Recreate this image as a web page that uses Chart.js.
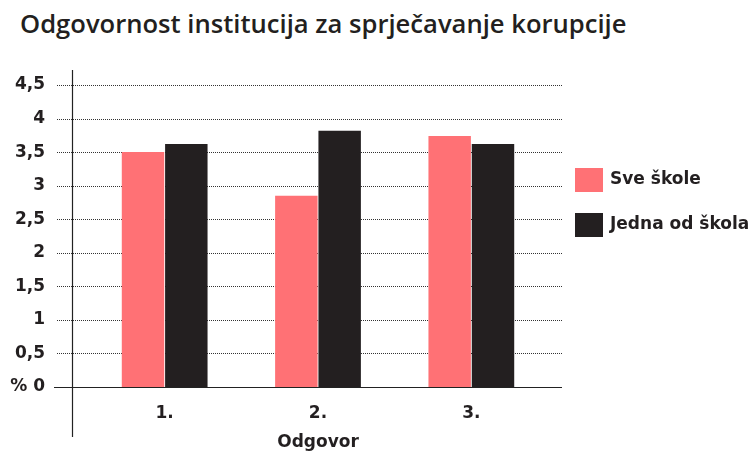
<!DOCTYPE html>
<html>
<head>
<meta charset="utf-8">
<script src="https://cdn.jsdelivr.net/npm/chart.js@4"></script>
<style>
  html, body { margin: 0; padding: 0; background: #fff; }
  #wrap { position: relative; width: 756px; height: 453px; }
  #title {
    position: absolute; left: 20px; top: 6px;
    font-family: "Open Sans", sans-serif; font-weight: 600; font-size: 25.6px;
    color: #231f20; white-space: nowrap;
  }
  canvas { position: absolute; left: 0; top: 0; }
</style>
</head>
<body>
<div id="wrap">
  <div id="title">Odgovornost institucija za sprječavanje korupcije</div>
  <canvas id="chart" width="756" height="453"></canvas>
</div>
<script>
// data
var categories = ["1.", "2.", "3."];
var sveSkole = [3.5, 2.85, 3.74];
var jednaOdSkola = [3.62, 3.82, 3.62];
var yTickLabels = ["% 0", "0,5", "1", "1,5", "2", "2,5", "3", "3,5", "4", "4,5"];

var pink = "#ff7175";
var dark = "#231f20";
var fontFam = "'DejaVu Sans', sans-serif";
var labelFont = "bold 17px 'DejaVu Sans', sans-serif";

// dotted grid lines reaching past the plot area, plus the two axis lines
var axisLines = {
  id: "axisLines",
  beforeDatasetsDraw: function(chart) {
    var ctx = chart.ctx, y = chart.scales.y;
    ctx.save();
    ctx.strokeStyle = "#333";
    ctx.lineWidth = 1;
    ctx.setLineDash([1, 1]);
    y.ticks.forEach(function(t) {
      if (t.value === 0) return;
      var py = Math.round(y.getPixelForValue(t.value)) + 0.5;
      ctx.beginPath();
      ctx.moveTo(57, py);
      ctx.lineTo(562, py);
      ctx.stroke();
    });
    ctx.restore();
  },
  afterDatasetsDraw: function(chart) {
    var ctx = chart.ctx, y = chart.scales.y;
    var py0 = Math.round(y.getPixelForValue(0)) + 0.5;
    ctx.save();
    ctx.strokeStyle = "#222";
    ctx.lineWidth = 1.2;
    ctx.beginPath();
    ctx.moveTo(54, py0);
    ctx.lineTo(562, py0);
    ctx.moveTo(72.5, 70);
    ctx.lineTo(72.5, 437);
    ctx.stroke();
    ctx.restore();
  }
};

// legend boxes and names taken from the datasets
var sideLegend = {
  id: "sideLegend",
  afterDraw: function(chart) {
    var ctx = chart.ctx;
    ctx.save();
    ctx.font = labelFont;
    ctx.textBaseline = "middle";
    chart.data.datasets.forEach(function(ds, i) {
      var top = 168 + i * 45;
      ctx.fillStyle = ds.backgroundColor;
      ctx.fillRect(575, top, 28, 24);
      ctx.fillStyle = dark;
      ctx.fillText(ds.label, 610, top + 12);
    });
    ctx.restore();
  }
};

var data = {
  labels: categories,
  datasets: [{
    label: "Sve škole",
    data: sveSkole,
    backgroundColor: pink
  }, {
    label: "Jedna od škola",
    data: jednaOdSkola,
    backgroundColor: dark
  }]
};

var options = {
  responsive: false,
  animation: false,
  layout: { padding: { top: 85, left: 7, right: 208, bottom: 0 } },
  datasets: { bar: { categoryPercentage: 0.565, barPercentage: 0.98 } },
  scales: {
    x: {
      afterFit: function(s) { s.height = 66; },
      grid: { display: false, drawTicks: false },
      border: { display: false },
      ticks: { color: dark, font: { family: fontFam, weight: "bold", size: 17 }, padding: 16 },
      title: { display: true, text: "Odgovor", color: dark, padding: 0,
               font: { family: fontFam, weight: "bold", size: 17 } }
    },
    y: {
      min: 0,
      max: 4.5,
      afterFit: function(s) { s.width = 81; },
      grid: { display: false, drawTicks: false },
      border: { display: false },
      ticks: {
        stepSize: 0.5,
        padding: 43,
        color: dark,
        font: { family: fontFam, weight: "bold", size: 17 },
        callback: function(v, i) { return yTickLabels[i]; }
      }
    }
  },
  plugins: {
    title: { display: false },
    tooltip: { enabled: false },
    legend: { display: false }
  }
};

var config = {
  type: "bar",
  data: data,
  options: options,
  plugins: [axisLines, sideLegend]
};

var ctx = document.getElementById("chart");
new Chart(ctx, config);
</script>
</body>
</html>
